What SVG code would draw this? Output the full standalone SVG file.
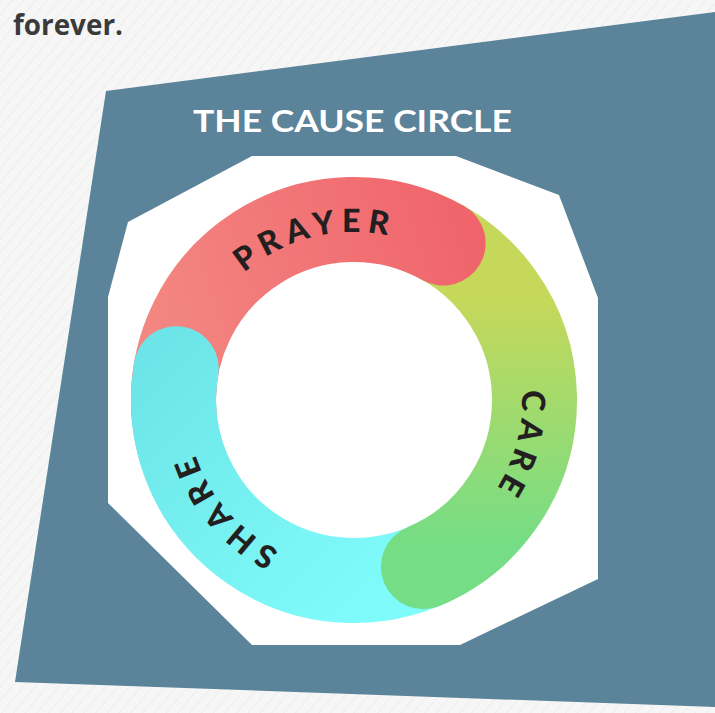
<svg xmlns="http://www.w3.org/2000/svg" width="715" height="713" viewBox="0 0 715 713">
  <defs>
    <pattern id="tex" width="9" height="9" patternUnits="userSpaceOnUse" patternTransform="rotate(40)">
      <rect width="9" height="9" fill="#f6f6f6"/>
      <line x1="0" y1="0" x2="0" y2="9" stroke="#ebebeb" stroke-width="1.5"/>
    </pattern>
    <linearGradient id="gRed" gradientUnits="userSpaceOnUse" x1="140" y1="330" x2="480" y2="220">
      <stop offset="0" stop-color="#f38882"/>
      <stop offset="1" stop-color="#f0636b"/>
    </linearGradient>
    <linearGradient id="gGreen" gradientUnits="userSpaceOnUse" x1="0" y1="300" x2="0" y2="545">
      <stop offset="0" stop-color="#c5d85a"/>
      <stop offset="1" stop-color="#75dd85"/>
    </linearGradient>
    <linearGradient id="gCyan" gradientUnits="userSpaceOnUse" x1="150" y1="360" x2="380" y2="600">
      <stop offset="0" stop-color="#6de5e8"/>
      <stop offset="1" stop-color="#80fbfb"/>
    </linearGradient>
    <path id="ringText" d="M186,400 A168,168 0 1 1 522,400 A168,168 0 1 1 186,400"/>
    <style>
      .seg { fill: none; stroke-width: 85; stroke-linecap: round; }
      .lbl { font-family: Lato, "Liberation Sans", sans-serif; font-weight: 900; font-size: 32px; letter-spacing: 6.5px; fill: #231f20; text-anchor: middle; }
    </style>
  </defs>

  <rect id="background" width="715" height="713" fill="url(#tex)"/>
  <text id="intro" x="13" y="35" font-family="'Open Sans', 'Liberation Sans', sans-serif" font-weight="700" font-size="28" fill="#3a3a3a" textLength="110" lengthAdjust="spacingAndGlyphs">forever.</text>

  <polygon id="panel" points="106,91 715,12 715,707 15,682" fill="#5b8399"/>
  <text id="title" x="193" y="132" font-family="Lato, 'Liberation Sans', sans-serif" font-weight="700" font-size="31" fill="#ffffff" textLength="319" lengthAdjust="spacingAndGlyphs">THE CAUSE CIRCLE</text>
  <polygon id="octagon" points="252,156 456,156 559,195 598,298 598,579 460,645 252,645 108,503 108,297 128,222" fill="#ffffff"/>

  <g id="connectors"></g>

  <g id="share">
    <path class="seg" stroke="url(#gCyan)" d="M176.24,368.66 A180.5,180.5 0 0 0 444.25,556.31"/>
  </g>
  <g id="care">
    <path class="seg" stroke="url(#gGreen)" d="M415.73,230.38 A180.5,180.5 0 0 1 423.37,566.64"/>
    <text class="lbl"><textPath href="#ringText" startOffset="572">CARE</textPath></text>
  </g>
  <g id="prayer">
    <path class="seg" stroke="url(#gRed)" d="M174.19,415.73 A180.5,180.5 0 0 1 443.15,243.06"/>
    <text class="lbl"><textPath href="#ringText" startOffset="224">PRAYER</textPath></text>
  </g>
  <g id="share-top">
    <path class="seg" stroke="url(#gCyan)" d="M176.24,368.66 A180.5,180.5 0 0 0 206.14,503.53"/>
    <text class="lbl"><textPath href="#ringText" startOffset="937">SHARE</textPath></text>
  </g>
</svg>
